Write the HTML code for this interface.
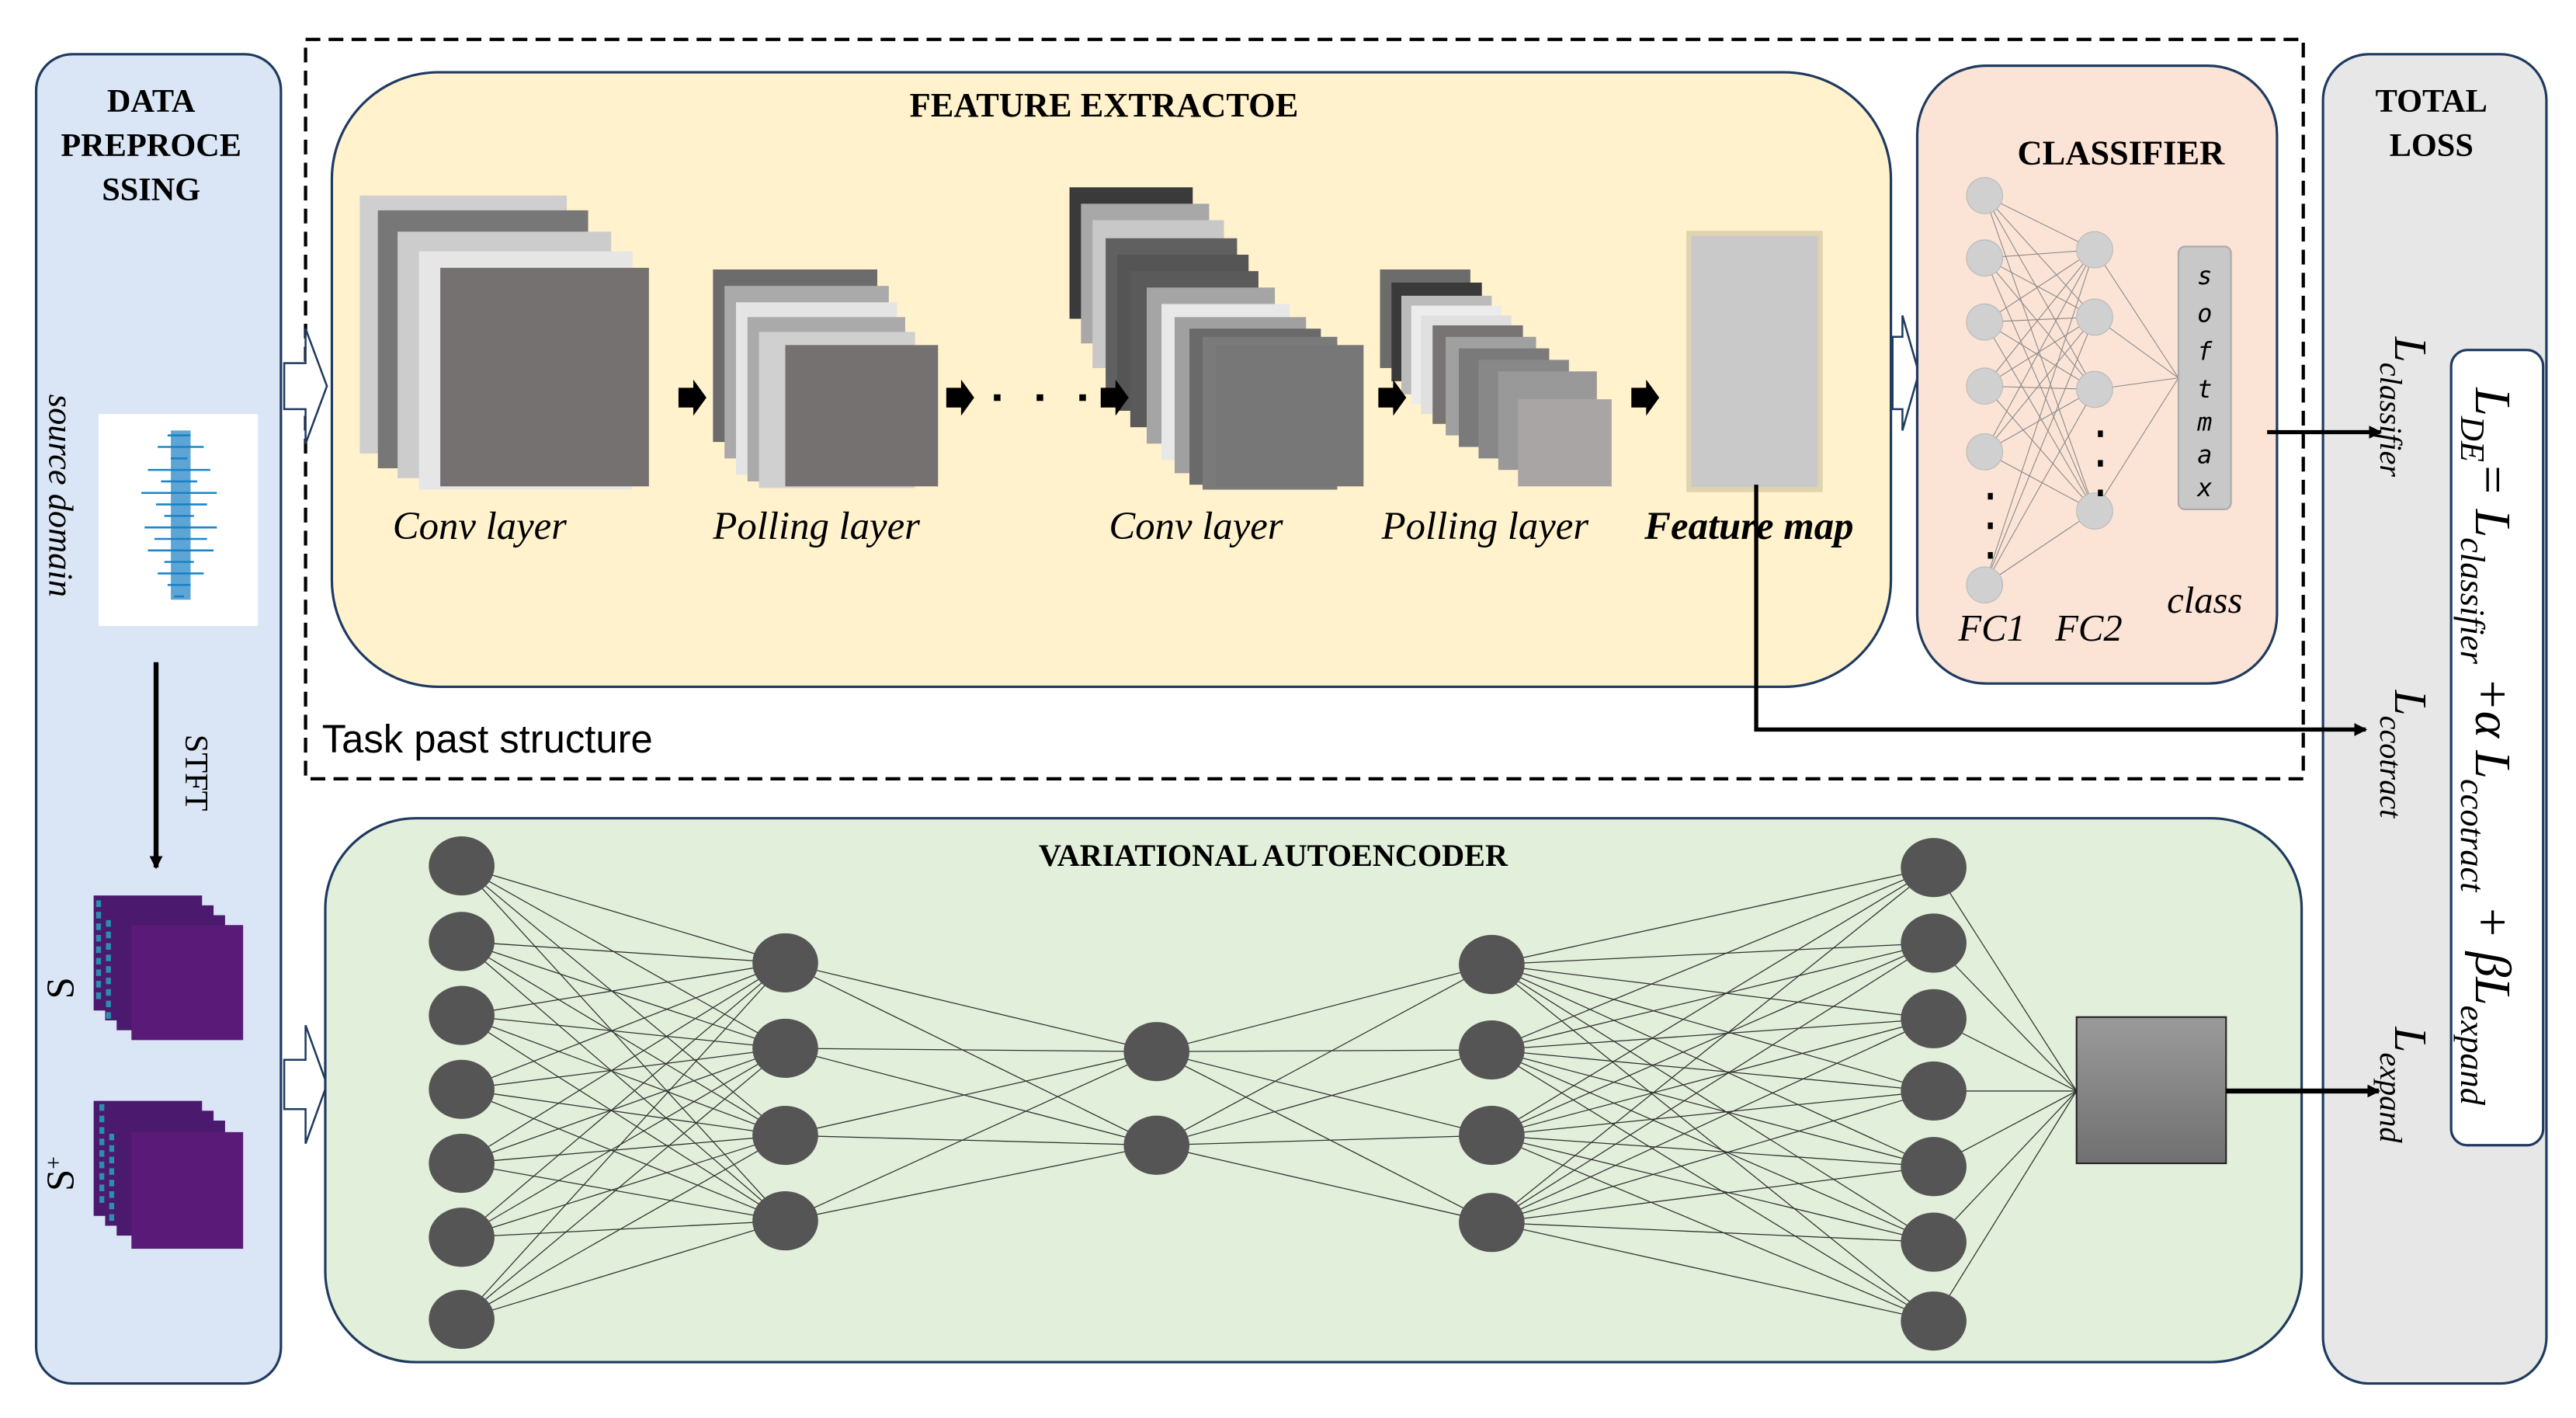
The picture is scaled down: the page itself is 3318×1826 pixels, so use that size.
<!DOCTYPE html>
<html><head><meta charset="utf-8"><style>
html,body{margin:0;padding:0;background:#fff;width:3318px;height:1826px;overflow:hidden}
svg{display:block}
.t{font-family:"Liberation Serif",serif}
</style></head><body>
<svg id="s" width="3318" height="1826" viewBox="0 0 1568 863" preserveAspectRatio="none" xmlns="http://www.w3.org/2000/svg">
<defs>
<marker id="ah" markerWidth="8" markerHeight="8" refX="7" refY="4" orient="auto" markerUnits="userSpaceOnUse"><path d="M0,0 L8,4 L0,8 z" fill="#000"/></marker>
<linearGradient id="g1" x1="0" y1="0" x2="0" y2="1"><stop offset="0" stop-color="#9a9a9a"/><stop offset="1" stop-color="#707070"/></linearGradient>
</defs>
<!-- left panel -->
<rect x="22" y="33" width="149" height="809" rx="22" fill="#dae6f5" stroke="#1f3a60" stroke-width="1.5"/>
<text class="t" x="92" y="68" font-size="20" font-weight="bold" text-anchor="middle">DATA</text>
<text class="t" x="92" y="95" font-size="20" font-weight="bold" text-anchor="middle">PREPROCE</text>
<text class="t" x="92" y="122" font-size="20" font-weight="bold" text-anchor="middle">SSING</text>
<text class="t" font-size="21" font-style="italic" transform="translate(30,240) rotate(90)">source domain</text>
<rect x="60" y="252" width="97" height="129" fill="#fff"/>
<g stroke="#1a86c8" stroke-width="1.2">
<path d="M102,265 L116,265 M96,272 L124,272 M104,279 L114,279 M90,286 L128,286 M98,293 L120,293 M86,300 L132,300 M95,307 L126,307 M100,314 L118,314 M88,321 L132,321 M94,328 L126,328 M90,335 L130,335 M100,342 L118,342 M96,349 L124,349 M102,356 L116,356 M106,363 L112,363"/>
</g>
<path d="M110,262 L110,365" stroke="#1a7fc4" stroke-width="12" opacity="0.7"/>
<line x1="95" y1="403" x2="95" y2="528" stroke="#000" stroke-width="3" marker-end="url(#ah)"/>
<text class="t" font-size="20" transform="translate(113,447) rotate(90)">STFT</text>
<g fill="#4b1a6e"><rect x="57" y="545" width="66" height="70"/><rect x="64" y="551" width="66" height="70"/><rect x="71" y="557" width="66" height="70"/><rect x="80" y="563" width="68" height="70" fill="#5a1b78"/></g>
<g fill="#4b1a6e"><rect x="57" y="670" width="66" height="70"/><rect x="64" y="676" width="66" height="70"/><rect x="71" y="682" width="66" height="70"/><rect x="80" y="689" width="68" height="71" fill="#5a1b78"/></g>
<path d="M60,548 L60,610 M66,560 L66,620 M62,672 L62,735 M68,690 L68,745" stroke="#2a8fb0" stroke-width="3" stroke-dasharray="4 3"/>
<text class="t" font-size="24" transform="translate(45,608) rotate(-90)">S</text>
<text class="t" font-size="24" transform="translate(45,725) rotate(-90)">S<tspan dy="-8" font-size="14">+</tspan></text>
<!-- dashed box -->
<rect x="186" y="24" width="1216" height="450" fill="none" stroke="#000" stroke-width="2" stroke-dasharray="9 5"/>
<text x="196" y="458" font-family="Liberation Sans,sans-serif" font-size="24">Task past structure</text>
<!-- hollow arrows -->
<path d="M173,221 L186,221 L186,200 L199,235 L186,270 L186,249 L173,249 z" fill="#fff" stroke="#1f3a60" stroke-width="1.2"/>
<path d="M173,645 L186,645 L186,624 L199,660 L186,696 L186,675 L173,675 z" fill="#fff" stroke="#1f3a60" stroke-width="1.2"/>
<path d="M1152,205 L1158,205 L1158,192 L1168,227 L1158,262 L1158,249 L1152,249 z" fill="#fff" stroke="#1f3a60" stroke-width="1.2"/>
<!-- feature extractor -->
<rect x="202" y="44" width="949" height="374" rx="65" fill="#fff2cc" stroke="#1f3a60" stroke-width="1.5"/>
<text class="t" x="672" y="71" font-size="21" font-weight="bold" text-anchor="middle">FEATURE EXTRACTOE</text>
<g>
<rect x="219" y="119" width="126" height="157" fill="#d0cfcf"/>
<rect x="230" y="128" width="128" height="157" fill="#777"/>
<rect x="242" y="141" width="130" height="150" fill="#ccc"/>
<rect x="255" y="153" width="130" height="145" fill="#e6e6e6"/>
<rect x="268" y="163" width="127" height="133" fill="#757171"/>
</g>
<g>
<rect x="434" y="164" width="100" height="105" fill="#6c6c6c"/>
<rect x="441" y="174" width="100" height="105" fill="#aaa"/>
<rect x="448" y="184" width="98" height="105" fill="#e4e4e4"/>
<rect x="455" y="193" width="96" height="100" fill="#aaa"/>
<rect x="462" y="202" width="95" height="95" fill="#d0d0d0"/>
<rect x="478" y="210" width="93" height="86" fill="#757171"/>
</g>
<g>
<rect x="651" y="114" width="75" height="80" fill="#3a3a3a"/>
<rect x="658" y="124" width="78" height="85" fill="#a8a8a8"/>
<rect x="665" y="134" width="80" height="90" fill="#c8c8c8"/>
<rect x="673" y="145" width="80" height="95" fill="#606060"/>
<rect x="680" y="155" width="80" height="95" fill="#555"/>
<rect x="688" y="165" width="78" height="95" fill="#5a5a5a"/>
<rect x="698" y="175" width="78" height="95" fill="#a5a5a5"/>
<rect x="707" y="185" width="78" height="95" fill="#e8e8e8"/>
<rect x="715" y="193" width="80" height="95" fill="#a0a0a0"/>
<rect x="724" y="200" width="80" height="95" fill="#6a6a6a"/>
<rect x="732" y="205" width="82" height="93" fill="#7a7a7a"/>
<rect x="740" y="210" width="90" height="86" fill="#777"/>
</g>
<g>
<rect x="840" y="164" width="55" height="60" fill="#6c6c6c"/>
<rect x="847" y="172" width="55" height="60" fill="#3a3a3a"/>
<rect x="853" y="180" width="55" height="60" fill="#bbb"/>
<rect x="859" y="186" width="55" height="60" fill="#ececec"/>
<rect x="865" y="192" width="55" height="60" fill="#e0e0e0"/>
<rect x="872" y="198" width="55" height="60" fill="#787474"/>
<rect x="880" y="205" width="55" height="60" fill="#a0a0a0"/>
<rect x="888" y="212" width="55" height="60" fill="#7a7a7a"/>
<rect x="900" y="219" width="55" height="60" fill="#888"/>
<rect x="912" y="226" width="60" height="60" fill="#999"/>
<rect x="924" y="243" width="57" height="53" fill="#aaa5a5"/>
</g>
<rect x="1028" y="142" width="80" height="156" fill="#c9c9c9" stroke="#e0d4b0" stroke-width="3"/>
<g fill="#000">
<path d="M413,236 L422,236 L422,231 L430,242 L422,253 L422,248 L413,248 z"/>
<path d="M576,236 L585,236 L585,231 L593,242 L585,253 L585,248 L576,248 z"/>
<path d="M670,236 L679,236 L679,231 L687,242 L679,253 L679,248 L670,248 z"/>
<path d="M839,236 L848,236 L848,231 L856,242 L848,253 L848,248 L839,248 z"/>
<path d="M993,236 L1002,236 L1002,231 L1010,242 L1002,253 L1002,248 L993,248 z"/>
<rect x="605" y="240" width="4" height="4"/><rect x="631" y="240" width="4" height="4"/><rect x="657" y="240" width="4" height="4"/>
</g>
<g class="t" font-size="24" font-style="italic">
<text x="239" y="328">Conv layer</text>
<text x="434" y="328">Polling layer</text>
<text x="675" y="328">Conv layer</text>
<text x="841" y="328">Polling layer</text>
<text x="1001" y="328" font-weight="bold">Feature map</text>
</g>
<!-- classifier -->
<rect x="1167" y="40" width="219" height="376" rx="42" fill="#fbe3d6" stroke="#1f3a60" stroke-width="1.5"/>
<text class="t" x="1291" y="100" font-size="21" font-weight="bold" text-anchor="middle">CLASSIFIER</text>
<g id="cls" stroke="#888" stroke-width="0.5"></g>
<rect x="1326" y="150" width="32" height="160" rx="4" fill="#c8c8c8" stroke="#aaa"/>
<g font-family="DejaVu Sans Mono,monospace" font-size="15" font-style="italic" text-anchor="middle">
<text x="1342" y="173">s</text><text x="1342" y="196">o</text><text x="1342" y="219">f</text><text x="1342" y="242">t</text><text x="1342" y="262">m</text><text x="1342" y="282">a</text><text x="1342" y="302">x</text>
</g>
<g class="t" font-size="23" font-style="italic">
<text x="1192" y="390">FC1</text><text x="1251" y="390">FC2</text><text x="1319" y="373">class</text>
</g>
<!-- total loss -->
<rect x="1414" y="33" width="136" height="809" rx="28" fill="#e7e7e7" stroke="#1f3a60" stroke-width="1.5"/>
<text class="t" x="1480" y="68" font-size="20" font-weight="bold" text-anchor="middle">TOTAL</text>
<text class="t" x="1480" y="95" font-size="20" font-weight="bold" text-anchor="middle">LOSS</text>
<rect x="1492" y="213" width="56" height="484" rx="10" fill="#fff" stroke="#1f3a60" stroke-width="1.5"/>
<g class="t" font-style="italic">
<text font-size="28" transform="translate(1458,205) rotate(90)">L<tspan font-size="19" dy="9">classifier</tspan></text>
<text font-size="28" transform="translate(1458,420) rotate(90)">L<tspan font-size="19" dy="9">ccotract</tspan></text>
<text font-size="28" transform="translate(1458,625) rotate(90)">L<tspan font-size="19" dy="9">expand</tspan></text>
<text font-size="31" transform="translate(1507,236) rotate(90)">L<tspan font-size="21" dy="9">DE</tspan><tspan dy="-9">= L</tspan><tspan font-size="21" dy="9">classifier</tspan><tspan dy="-9"> +α L</tspan><tspan font-size="21" dy="9">ccotract</tspan><tspan dy="-9"> + βL</tspan><tspan font-size="21" dy="9">expand</tspan></text>
</g>
<!-- connectors -->
<line x1="1380" y1="263" x2="1449" y2="263" stroke="#000" stroke-width="2.5" marker-end="url(#ah)"/>
<polyline points="1069,295 1069,444 1440,444" fill="none" stroke="#000" stroke-width="2.5" marker-end="url(#ah)"/>
<!-- VAE -->
<rect x="198" y="498" width="1203" height="331" rx="55" fill="#e2efda" stroke="#1f3a60" stroke-width="1.5"/>
<text class="t" x="775" y="527" font-size="19" font-weight="bold" text-anchor="middle">VARIATIONAL AUTOENCODER</text>
<g id="vae" stroke="#333" stroke-width="0.6"></g>
<rect x="1264" y="619" width="91" height="89" fill="url(#g1)" stroke="#222" stroke-width="1"/>
<line x1="1355" y1="664" x2="1448" y2="664" stroke="#000" stroke-width="3" marker-end="url(#ah)"/>
</svg>
<script>
var NS="http://www.w3.org/2000/svg";
function el(p,t,a){var e=document.createElementNS(NS,t);for(var k in a)e.setAttribute(k,a[k]);p.appendChild(e);return e;}
var v=document.getElementById("vae");
var L=[[281,[527,573,618,663,708,753,803]],[478,[586,638,691,743]],[704,[640,697]],[908,[587,639,691,744]],[1177,[528,574,620,664,710,756,804]]];
for(var i=0;i<L.length-1;i++)for(var a=0;a<L[i][1].length;a++)for(var b=0;b<L[i+1][1].length;b++)el(v,"line",{x1:L[i][0],y1:L[i][1][a],x2:L[i+1][0],y2:L[i+1][1][b]});
L[4][1].forEach(function(y){el(v,"line",{x1:1177,y1:y,x2:1264,y2:664});});
L.forEach(function(l){l[1].forEach(function(y){el(v,"ellipse",{cx:l[0],cy:y,rx:20,ry:18,fill:"#555",stroke:"none"});});});
var c=document.getElementById("cls");
var f1=[119,157,196,235,275,356],f2=[152,193,237,311];
f1.forEach(function(a){f2.forEach(function(b){el(c,"line",{x1:1208,y1:a,x2:1275,y2:b});});});
f2.forEach(function(b){el(c,"line",{x1:1275,y1:b,x2:1326,y2:230});});
f1.forEach(function(y){el(c,"circle",{cx:1208,cy:y,r:11,fill:"#d0d0d0",stroke:"#b8b8b8"});});
f2.forEach(function(y){el(c,"circle",{cx:1275,cy:y,r:11,fill:"#d0d0d0",stroke:"#b8b8b8"});});
[300,318,336].forEach(function(y){el(c,"rect",{x:1210,y:y,width:3,height:4,fill:"#000",stroke:"none"});});
[262,280,298].forEach(function(y){el(c,"rect",{x:1277,y:y,width:3,height:4,fill:"#000",stroke:"none"});});
</script>
</body></html>
